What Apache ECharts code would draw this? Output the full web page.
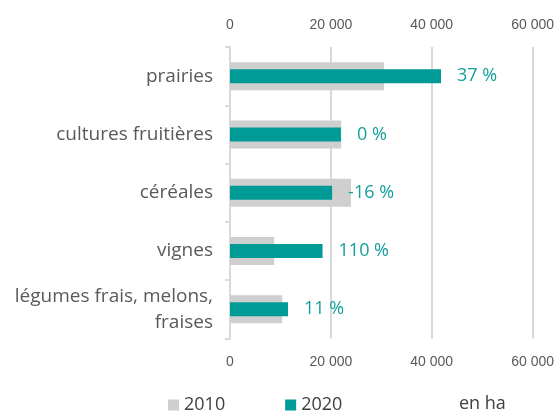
<!DOCTYPE html>
<html>
<head>
<meta charset="UTF-8">
<title>Surfaces 2010 / 2020</title>
<script type="text/javascript" src="https://cdn.jsdelivr.net/npm/echarts@6/dist/echarts.min.js"></script>
<style>
  html, body { margin: 0; padding: 0; background: #fff; }
</style>
</head>
<body>
<div id="main" style="width:557px;height:412px"></div>
<script type="text/javascript">
// données (en ha)
var categories = ['prairies', 'cultures fruitières', 'céréales', 'vignes', 'légumes frais, melons,\nfraises'];
var data2010 = [30550, 22050, 24000, 8770, 10360];
var data2020 = [41850, 22000, 20250, 18350, 11500];
var evolution = ['37 %', '0 %', '-16 %', '110 %', '11 %'];
var xTicks = [0, 20000, 40000, 60000];

var gris = '#d0cfcf';
var bleu = '#009a97';
var police = 'Open Sans, sans-serif';
var policeAxe = "'Liberation Sans', sans-serif";

function fmt(v) {
  // séparateur de milliers : espace
  return String(v).replace(/\B(?=(\d{3})+(?!\d))/g, ' ');
}

var myChart = echarts.init(document.getElementById('main'));

var axeX = function (pos) {
  return {
    type: 'value',
    position: pos,
    min: xTicks[0],
    max: xTicks[xTicks.length - 1],
    interval: xTicks[1] - xTicks[0],
    axisLine: { show: false },
    axisTick: { show: false },
    splitLine: { show: pos === 'bottom', lineStyle: { color: '#d9d9d9', width: 2 } },
    axisLabel: {
      formatter: fmt,
      color: '#595959',
      fontFamily: policeAxe,
      fontSize: 14,
      margin: pos === 'top' ? 15 : 17
    }
  };
};

var option = {
  animation: false,
  grid: { left: 230, right: 24, top: 47, bottom: 73.5, containLabel: false },
  xAxis: [axeX('bottom'), axeX('top')],
  yAxis: [{
    type: 'category',
    data: categories,
    inverse: true,
    axisLine: { lineStyle: { color: '#d9d9d9', width: 2 } },
    axisTick: { show: true, length: 5, lineStyle: { color: '#d9d9d9', width: 2 } },
    axisLabel: {
      color: '#595959',
      fontFamily: police,
      fontSize: 19,
      lineHeight: 26,
      margin: 17,
      align: 'right'
    }
  }, {
    type: 'category',
    data: categories,
    inverse: true,
    position: 'left',
    show: false
  }],
  legend: {
    data: ['2010', '2020'],
    left: 168,
    top: 396,
    padding: 0,
    itemWidth: 11,
    itemHeight: 11,
    itemGap: 60,
    icon: 'rect',
    textStyle: { color: '#404040', fontFamily: police, fontSize: 18 }
  },
  graphic: [{
    type: 'text',
    left: 459,
    top: 395,
    style: { text: 'en ha', fill: '#404040', font: '18px ' + police }
  }],
  series: [
    {
      name: '2010',
      type: 'bar',
      data: data2010,
      yAxisIndex: 0,
      barWidth: 28,
      itemStyle: { color: gris },
      z: 2
    },
    {
      name: '2020',
      type: 'bar',
      data: data2020,
      yAxisIndex: 1,
      barWidth: 14,
      itemStyle: { color: bleu },
      z: 3,
      label: {
        show: true,
        position: 'right',
        distance: 16,
        color: '#13a09c',
        fontFamily: police,
        fontSize: 18,
        formatter: function (p) { return evolution[p.dataIndex]; }
      }
    }
  ]
};
myChart.setOption(option);
</script>
</body>
</html>
